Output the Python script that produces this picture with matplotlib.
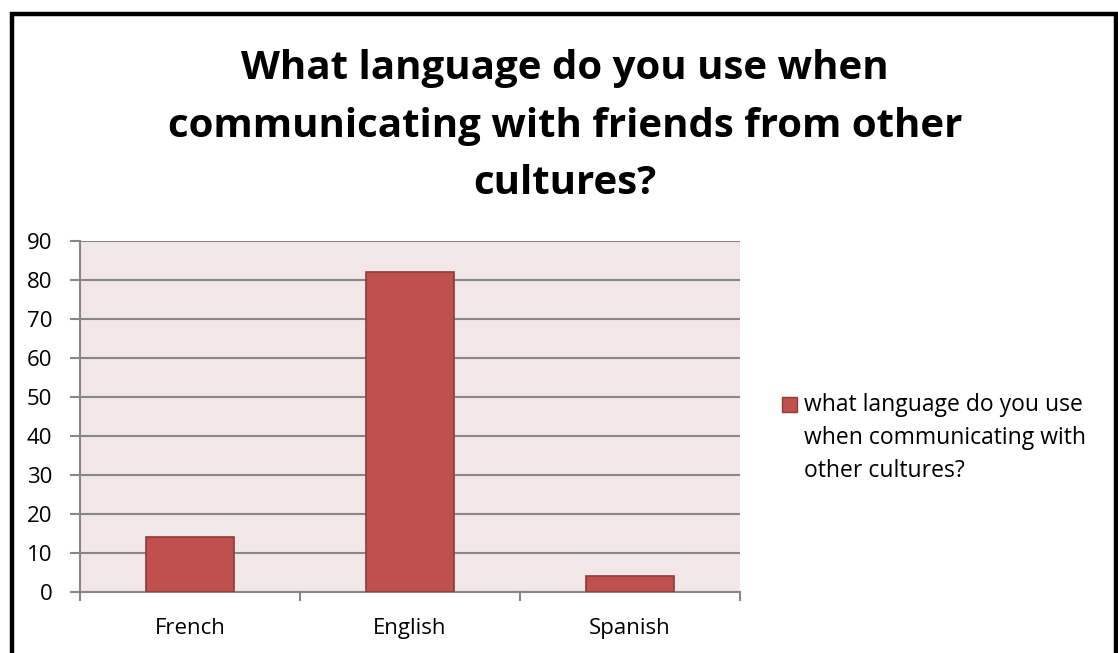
import matplotlib
matplotlib.use("Agg")
import matplotlib.pyplot as plt
from matplotlib.patches import Rectangle

categories = ["French", "English", "Spanish"]
values = [14, 82, 4]
series_name = "what language do you use\nwhen communicating with\nother cultures?"
title = "What language do you use when\ncommunicating with friends from other\ncultures?"
yticks = list(range(0, 100, 10))

plt.rcParams["font.family"] = ["Open Sans", "DejaVu Sans"]

W, H = 1118, 653
fig = plt.figure(figsize=(W / 100, H / 100), dpi=100)
fig.patch.set_facecolor("white")

# outer frame
fig.add_artist(Rectangle((12 / W, -0.05), (1116 - 12) / W, 1 - 13.5 / H + 0.05,
                         transform=fig.transFigure, fill=False, edgecolor="black",
                         linewidth=3.2, clip_on=False))

ax = fig.add_axes([80 / W, 1 - 592 / H, 660 / W, 351 / H])
ax.set_facecolor("#F2E7E7")

bar_color = "#C0504D"
bar_edge = "#8E3B39"
x = range(len(categories))
ax.bar(x, values, width=0.4, color=bar_color, edgecolor=bar_edge, linewidth=1.2, zorder=3)

ax.set_xlim(-0.5, 2.5)
ax.set_ylim(0, 90)
ax.set_yticks(yticks)
ax.set_yticklabels([str(t) for t in yticks], fontsize=16)
ax.set_xticks(list(x))
ax.set_xticklabels(categories, fontsize=16)
ax.yaxis.grid(True, color="#878787", linewidth=1.5, zorder=1)
ax.set_axisbelow(True)

for s in ["top", "right"]:
    ax.spines[s].set_visible(False)
for s in ["left", "bottom"]:
    ax.spines[s].set_color("#878787")
    ax.spines[s].set_linewidth(1.5)
ax.tick_params(axis="y", length=7, width=1.5, color="#878787", pad=13)
ax.tick_params(axis="x", length=0, pad=19)
# category boundary ticks below the axis
for b in [-0.5, 0.5, 1.5, 2.5]:
    ax.plot([b, b], [0, -2], color="#878787", linewidth=1.5, clip_on=False, zorder=4)

fig.text(565 / W, 1 - 126 / H, title, ha="center", va="center", fontsize=29,
         fontweight="bold", linespacing=1.63)

# legend: swatch plus wrapped series name
fig.add_artist(Rectangle((782 / W, 1 - 412 / H), 15 / W, 15 / H, transform=fig.transFigure,
                         facecolor=bar_color, edgecolor=bar_edge, linewidth=1.0))
fig.text(804 / W, 1 - 438 / H, series_name, ha="left", va="center", fontsize=16.5,
         linespacing=1.52)

fig.savefig("out.png", dpi=100, facecolor="white")
